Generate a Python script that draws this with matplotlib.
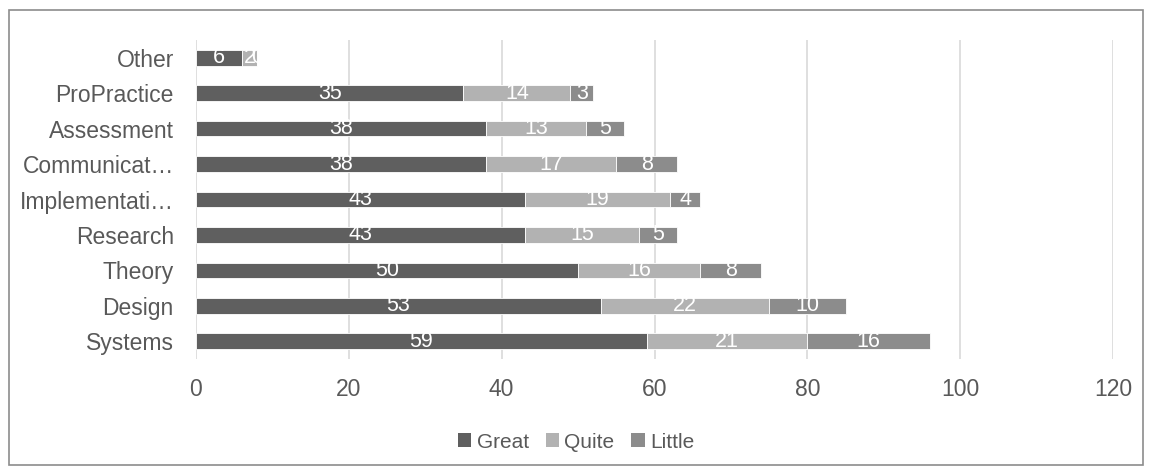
import matplotlib.pyplot as plt
import numpy as np

plt.rcParams['font.family'] = ['Liberation Sans', 'DejaVu Sans']

# categories bottom to top
categories = ['Systems', 'Design', 'Theory', 'Research', 'Implementati…',
              'Communicat…', 'Assessment', 'ProPractice', 'Other']
great = [59, 53, 50, 43, 43, 38, 38, 35, 6]
quite = [21, 22, 16, 15, 19, 17, 13, 14, 2]
little = [16, 10, 8, 5, 4, 8, 5, 3, 0]
x_ticks = [0, 20, 40, 60, 80, 100, 120]

series = [('Great', great, '#5f5f5f'),
          ('Quite', quite, '#b2b2b2'),
          ('Little', little, '#8c8c8c')]

text_color = '#595959'

fig = plt.figure(figsize=(11.52, 4.72), dpi=100)
ax = fig.add_axes([196 / 1152, 1 - 359 / 472, (1113 - 196) / 1152, (359 - 40) / 472])

y = np.arange(len(categories))
left = np.zeros(len(categories))
for name, values, color in series:
    bars = ax.barh(y, values, left=left, height=0.44, color=color,
                   edgecolor='white', linewidth=0.6, label=name, zorder=3)
    for bar, v in zip(bars, values):
        cx = bar.get_x() + bar.get_width() / 2
        ax.text(cx, bar.get_y() + bar.get_height() / 2, str(v), color='white',
                ha='center', va='center', fontsize=15.5, zorder=4)
    left += np.array(values)

ax.set_xlim(0, 120)
ax.set_ylim(-0.5, len(categories) - 0.5)
ax.set_xticks(x_ticks)
ax.set_yticks(y)
ax.set_yticklabels(categories)
ax.tick_params(axis='both', length=0, labelsize=16.5, colors=text_color)
ax.tick_params(axis='x', pad=14)
ax.tick_params(axis='y', pad=16)
ax.grid(axis='x', color='#d9d9d9', linewidth=1.2, zorder=0)
for spine in ax.spines.values():
    spine.set_visible(False)

leg = fig.legend(loc='center', bbox_to_anchor=(0.5, 1 - 442 / 472), ncol=3,
                 frameon=False, fontsize=15, handlelength=0.65, handleheight=0.65,
                 handletextpad=0.25, columnspacing=0.8)
for t in leg.get_texts():
    t.set_color(text_color)
for h in leg.legend_handles:
    h.set_edgecolor('none')

# outer chart border
fig.patches.append(plt.Rectangle((9 / 1152, 1 - 465 / 472), (1143 - 9) / 1152,
                                 (465 - 10) / 472, transform=fig.transFigure,
                                 fill=False, edgecolor='#8c8c8c', linewidth=1.2))

fig.savefig('out.png', dpi=100)
